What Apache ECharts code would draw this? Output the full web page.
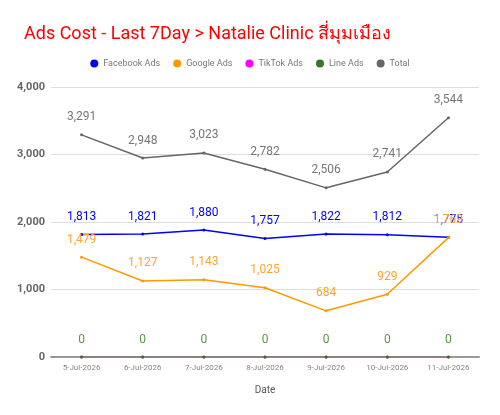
<!DOCTYPE html>
<html>
<head>
<meta charset="utf-8">
<script src="https://cdn.jsdelivr.net/npm/echarts@6/dist/echarts.min.js"></script>
<style>
html, body { margin: 0; padding: 0; background: #fff; }
#chart { width: 500px; height: 415px; }
</style>
</head>
<body>
<div id="chart"></div>
<script>
const dates = ['5-Jul-2026', '6-Jul-2026', '7-Jul-2026', '8-Jul-2026', '9-Jul-2026', '10-Jul-2026', '11-Jul-2026']
const facebookAds = [1813, 1821, 1880, 1757, 1822, 1812, 1775]
const googleAds = [1479, 1127, 1143, 1025, 684, 929, 1769]
const tiktokAds = [0, 0, 0, 0, 0, 0, 0]
const lineAds = [0, 0, 0, 0, 0, 0, 0]
const total = [3291, 2948, 3023, 2782, 2506, 2741, 3544]

const chart = echarts.init(document.getElementById('chart'))

function lineSeries(name, data, color, lineColor, labelColor, showLabel) {
  return {
    name: name,
    type: 'line',
    data: data,
    symbol: 'circle',
    symbolSize: 3,
    itemStyle: { color: color },
    lineStyle: { color: lineColor || color, width: 1.5 },
    label: {
      show: showLabel !== false,
      position: 'top',
      distance: 10,
      color: labelColor || color,
      fontSize: 12,
      fontFamily: 'Roboto',
      formatter: function (p) { return p.value.toLocaleString('en-US') }
    },
    labelLayout: { hideOverlap: false },
    emphasis: { disabled: true }
  }
}

chart.setOption({
  animation: false,
  textStyle: { fontFamily: 'Roboto' },
  title: {
    text: 'Ads Cost - Last 7Day > Natalie Clinic สี่มุมเมือง',
    left: 19,
    top: 20,
    textStyle: { color: '#ff0000', fontSize: 18, fontWeight: 'normal', fontFamily: 'Roboto, "Noto Sans", "DejaVu Sans"' }
  },
  legend: {
    top: 54,
    left: 'center',
    icon: 'circle',
    itemWidth: 8,
    itemHeight: 8,
    itemGap: 13,
    textStyle: { color: '#777', fontSize: 9 },
    data: ['Facebook Ads', 'Google Ads', 'TikTok Ads', 'Line Ads', 'Total']
  },
  grid: { left: 51, right: 21, top: 87, bottom: 58 },
  xAxis: {
    type: 'category',
    data: dates,
    name: 'Date',
    nameLocation: 'middle',
    nameGap: 28,
    nameTextStyle: { color: '#555', fontSize: 10 },
    axisLine: { lineStyle: { color: '#999', width: 2 } },
    axisTick: { show: false },
    axisLabel: { color: '#888', fontSize: 8, margin: 7 }
  },
  yAxis: {
    type: 'value',
    min: 0,
    max: 4000,
    interval: 1000,
    axisLine: { show: false },
    axisTick: { show: false },
    axisLabel: {
      color: '#666',
      fontSize: 11,
      fontWeight: 'bold',
      margin: 6,
      formatter: function (v) { return v.toLocaleString('en-US') }
    },
    splitLine: { lineStyle: { color: '#dddddd', width: 1 } }
  },
  series: [
    lineSeries('Total', total, '#666666', null, '#777777'),
    lineSeries('TikTok Ads', tiktokAds, '#ff00ff', null, null, false),
    lineSeries('Line Ads', lineAds, '#38761d', '#6aa84f', '#5a9a3e'),
    lineSeries('Facebook Ads', facebookAds, '#0000ff'),
    lineSeries('Google Ads', googleAds, '#ff9900', null, '#ffa42e')
  ]
})
</script>
</body>
</html>
